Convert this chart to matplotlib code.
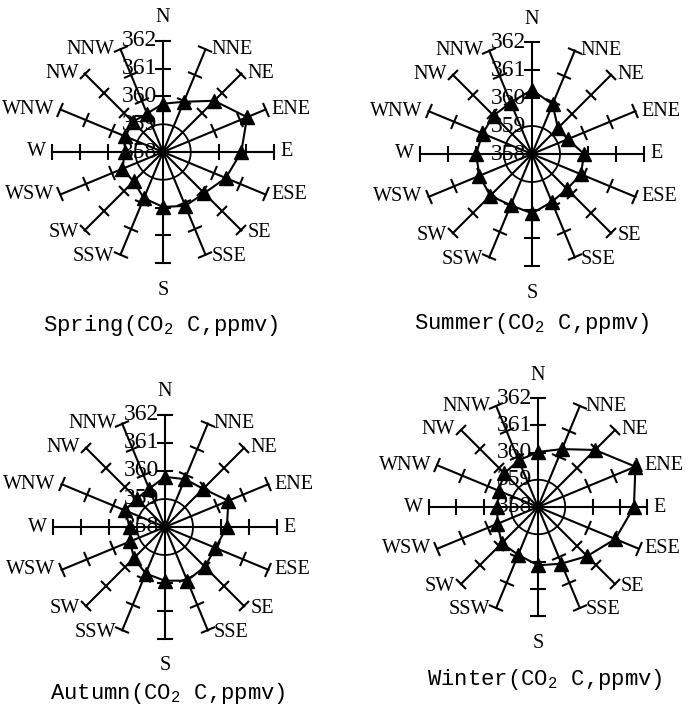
import numpy as np
import matplotlib
matplotlib.use("Agg")
import matplotlib.pyplot as plt
from matplotlib.markers import MarkerStyle
from matplotlib.transforms import Affine2D

directions = ["N", "NNE", "NE", "ENE", "E", "ESE", "SE", "SSE",
              "S", "SSW", "SW", "WSW", "W", "WNW", "NW", "NNW"]
r_ticks = [358, 359, 360, 361, 362]

spring = [359.74, 359.96, 360.61, 361.28, 360.82, 360.45, 360.10, 360.10,
          359.98, 359.80, 359.50, 359.58, 359.38, 359.47, 359.54, 359.50]
summer = [360.29, 359.92, 359.31, 359.38, 359.86, 359.89, 359.77, 359.85,
          360.12, 359.98, 360.11, 360.03, 360.00, 359.91, 359.94, 359.99]
autumn = [359.79, 359.85, 359.93, 360.45, 360.21, 359.95, 360.01, 360.07,
          359.92, 359.80, 359.57, 359.35, 359.26, 359.55, 359.43, 359.48]
winter = [360.02, 360.30, 360.96, 361.87, 361.52, 361.07, 360.55, 360.25,
          360.14, 359.90, 359.88, 359.61, 359.49, 359.56, 359.75, 359.85]

seasons = ["Spring", "Summer", "Autumn", "Winter"]
series = [spring, summer, autumn, winter]

W_PX, H_PX = 689, 707
# panel centre (px), radius (px), title centre (px)
panels = [
    ((163, 152), 111, (161, 326)),
    ((532, 154), 112, (532, 323)),
    ((165, 527), 112, (168, 693)),
    ((538, 507), 109, (545, 680)),
]

plt.rcParams["mathtext.fontset"] = "custom"
plt.rcParams["mathtext.rm"] = "Liberation Mono"
plt.rcParams["mathtext.it"] = "Liberation Mono"

SERIF = "Liberation Serif"
PX = 0.72  # points per pixel at dpi 100

fig = plt.figure(figsize=(W_PX / 100, H_PX / 100), dpi=100)

theta = np.deg2rad(np.arange(len(directions)) * 22.5)

for season, values, ((cx, cy), R, (tx, ty)) in zip(seasons, series, panels):
    ax = fig.add_axes([(cx - R) / W_PX, (H_PX - cy - R) / H_PX,
                       2 * R / W_PX, 2 * R / H_PX], projection="polar")
    ax.set_theta_zero_location("N")
    ax.set_theta_direction(-1)
    ax.set_rlim(r_ticks[0], r_ticks[-1])
    ax.axis("off")

    # reference circle at 359
    circ = np.linspace(0, 2 * np.pi, 200)
    ax.plot(circ, np.full_like(circ, r_ticks[1]), color="black", lw=1.3,
            clip_on=False)

    for th, name in zip(theta, directions):
        deg = np.rad2deg(th)
        ax.plot([th, th], [r_ticks[0], r_ticks[-1]], color="black", lw=1.5,
                clip_on=False)
        mk = MarkerStyle("_", transform=Affine2D().rotate_deg(-deg))
        ax.plot([th, th, th], r_ticks[2:], ls="none", marker=mk,
                markersize=11, markeredgewidth=1.5, color="black", clip_on=False)

        # direction labels
        s = np.sin(th)
        if abs(s) < 1e-6:
            up = np.cos(th) > 0
            ax.annotate(name, xy=(th, r_ticks[-1]),
                        xytext=(0, (23 if up else -27) * PX),
                        textcoords="offset points", ha="center", va="center",
                        family=SERIF, fontsize=14.5, clip_on=False)
        else:
            ax.annotate(name, xy=(th, r_ticks[-1]),
                        xytext=(6 * PX * np.sign(s), -2 * PX * (np.cos(th) < -0.6)),
                        textcoords="offset points",
                        ha="left" if s > 0 else "right", va="center",
                        family=SERIF, fontsize=14.5, clip_on=False)

    # radial scale labels along the north spoke
    for v in r_ticks:
        ax.annotate(str(v), xy=(0, v), xytext=(-6 * PX, 0),
                    textcoords="offset points", ha="right", va="center",
                    family=SERIF, fontsize=17, clip_on=False)

    # data polygon
    th_c = np.append(theta, theta[0])
    v_c = np.append(values, values[0])
    ax.plot(th_c, v_c, color="black", lw=1.5, clip_on=False)
    ax.plot(theta, values, ls="none", marker="^", markersize=10,
            color="black", clip_on=False, zorder=5)

    fig.text(tx / W_PX, 1 - ty / H_PX, season + r"(CO$_2$ C,ppmv)",
             ha="center", va="center", family="Liberation Mono", fontsize=16)

fig.savefig("out.png", dpi=100)
